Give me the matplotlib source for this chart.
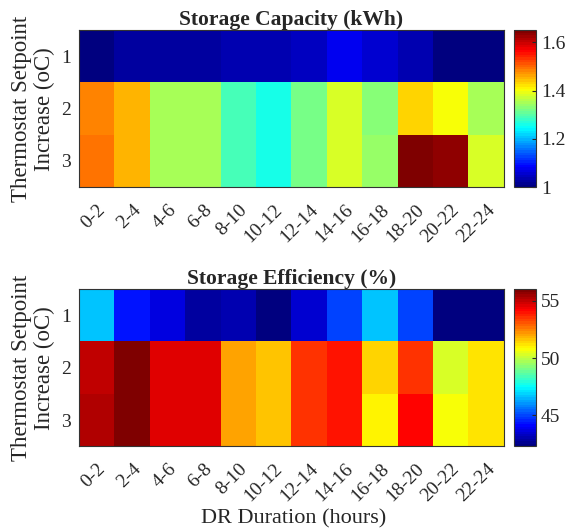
import matplotlib
matplotlib.use("Agg")
import matplotlib.pyplot as plt
import numpy as np
from matplotlib.colors import LinearSegmentedColormap

plt.rcParams['font.family'] = ['Liberation Serif', 'DejaVu Serif']
plt.rcParams['text.color'] = '#262626'
plt.rcParams['xtick.color'] = '#262626'
plt.rcParams['ytick.color'] = '#262626'
plt.rcParams['axes.labelcolor'] = '#262626'

durations = ['0-2', '2-4', '4-6', '6-8', '8-10', '10-12',
             '12-14', '14-16', '16-18', '18-20', '20-22', '22-24']
setpoints = ['1', '2', '3']

# storage capacity (kWh), rows = setpoint increase 1..3
capacity = [
    [1.01, 1.03, 1.03, 1.03, 1.04, 1.04, 1.05, 1.08, 1.06, 1.04, 1.00, 1.01],
    [1.48, 1.447, 1.351, 1.351, 1.288, 1.264, 1.315, 1.38, 1.335, 1.427, 1.406, 1.35],
    [1.488, 1.447, 1.351, 1.351, 1.288, 1.264, 1.315, 1.38, 1.345, 1.65, 1.63, 1.377],
]
# storage efficiency (%)
efficiency = [
    [46.6, 44.4, 43.6, 42.9, 43.0, 42.4, 43.4, 44.9, 46.6, 44.9, 42.3, 42.4],
    [55.1, 56.0, 54.7, 54.7, 52.1, 51.7, 53.6, 53.9, 51.3, 53.6, 50.25, 51.2],
    [55.35, 56.0, 54.7, 54.7, 52.1, 51.7, 53.6, 53.9, 51.07, 54.1, 50.66, 51.2],
]

# matlab style jet
jet = LinearSegmentedColormap('mjet', {
    'red': [(0, 0, 0), (0.375, 0, 0), (0.625, 1, 1), (0.875, 1, 1), (1, 0.5, 0.5)],
    'green': [(0, 0, 0), (0.125, 0, 0), (0.375, 1, 1), (0.625, 1, 1), (0.875, 0, 0), (1, 0, 0)],
    'blue': [(0, 0.5, 0.5), (0.125, 1, 1), (0.375, 1, 1), (0.625, 0, 0), (1, 0, 0)],
}, N=64)

fig = plt.figure(figsize=(5.65, 5.3), dpi=100)

panels = [
    (capacity, 'Storage Capacity (kWh)', (1.0, 1.65), [1, 1.2, 1.4, 1.6], ['1', '1.2', '1.4', '1.6'], 0.647),
    (efficiency, 'Storage Efficiency (%)', (42.3, 56.0), [45, 50, 55], ['45', '50', '55'], 0.158),
]

for data, title, lims, cticks, clabels, bottom in panels:
    ax = fig.add_axes([0.140, bottom, 0.752, 0.296])
    im = ax.imshow(np.array(data), cmap=jet, vmin=lims[0], vmax=lims[1],
                   aspect='auto', interpolation='nearest')
    ax.set_title(title, fontsize=15.5, fontweight='bold', pad=3)
    ax.set_xticks(range(len(durations)))
    ax.set_xticklabels(durations, rotation=45, fontsize=14, ha='right',
                       rotation_mode='anchor')
    ax.set_yticks(range(len(setpoints)))
    ax.set_yticklabels(setpoints, fontsize=14)
    ax.tick_params(axis='y', length=0, pad=6)
    ax.tick_params(axis='x', length=0, pad=10)
    ax.set_ylabel('Thermostat Setpoint\nIncrease (oC)', fontsize=16.5,
                  linespacing=1.15, labelpad=4)
    for s in ax.spines.values():
        s.set_color('#333333')
    cax = fig.add_axes([0.910, bottom, 0.039, 0.296])
    cb = fig.colorbar(im, cax=cax)
    cb.set_ticks(cticks)
    cb.set_ticklabels(clabels)
    cb.ax.tick_params(labelsize=14, length=3, direction='in')
    cb.outline.set_color('#333333')

fig.text(0.52, 0.012, 'DR Duration (hours)', ha='center', fontsize=16)

fig.savefig('out.png', dpi=100)
